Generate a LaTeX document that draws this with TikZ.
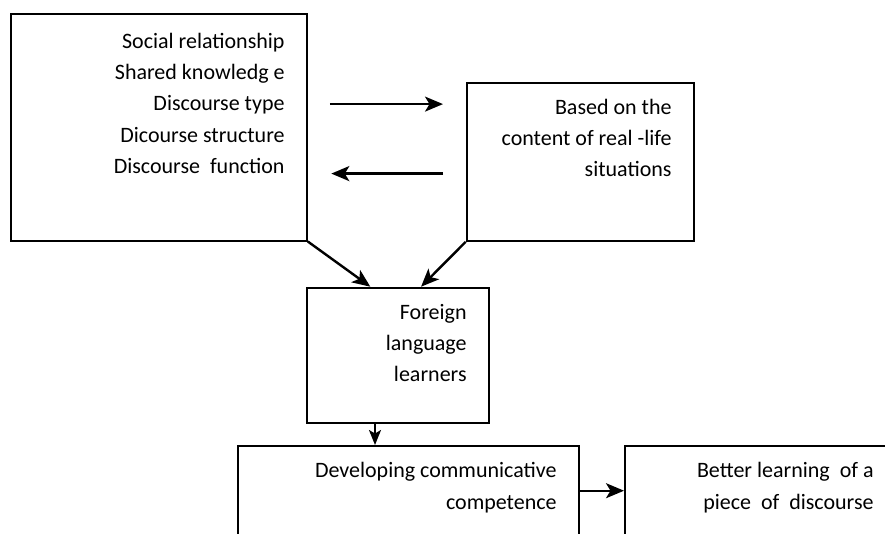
\documentclass[tikz,border=0pt]{standalone}
\usepackage{fontspec}
\setmainfont{Carlito}
\usetikzlibrary{arrows.meta}
\usetikzlibrary{calc}
\usetikzlibrary{positioning}

\begin{document}
\begin{tikzpicture}[x=1pt,y=-1pt,
	box/.style={draw,line width=1.8pt,anchor=north west,inner sep=0pt},
	lines/.style={align=right,inner sep=0pt,font=\fontsize{22}{31.3}\selectfont},
	link/.style={-{Stealth[length=18pt,width=15pt,inset=4.5pt]},line width=2pt}]
	\clip (0,0) rectangle (885,533);
	% boxes
	\node (aspects) [box,minimum width=296pt,minimum height=227pt] at (10,12.7) {};
	\node [lines,below left=20pt and 23pt of aspects.north east] {Social relationship\\Shared knowledg e\\Discourse type\\Dicourse structure\\Discourse\ \ function};
	\node (real) [box,minimum width=227.3pt,minimum height=158.3pt] at (465.7,81.7) {};
	\node [lines,below left=17pt and 23pt of real.north east] {Based on the\\content of real -life\\situations};
	\node (learners) [box,minimum width=182pt,minimum height=135pt] at (306,286.7) {};
	\node [lines,below left=17pt and 23pt of learners.north east] {Foreign\\language\\learners};
	\node (develop) [box,minimum width=340.7pt,minimum height=130pt] at (237.3,445) {};
	\node [lines,below left=17.5pt and 23pt of develop.north east] {Developing communicative\\competence};
	\node (better) [box,minimum width=271pt,minimum height=130pt] at (624,445) {};
	\node [lines,below left=17.5pt and 23pt of better.north east] {Better learning\ \ of a\\piece\ \ of\ \ discourse};
	% arrows
	\draw[link] ($(aspects.east)+(22,-23)$) -- ($(aspects.east -| real.west)+(-22.7,-23)$);
	\draw[link,line width=2.4pt] ($(aspects.east -| real.west)+(-22.7,46.5)$) -- ($(aspects.east)+(23.5,46.5)$);
	\draw[link,line width=2.4pt] (aspects.south east) -- ($(learners.north west)!0.35!(learners.north east)$);
	\draw[link,line width=2.4pt] (real.south west) -- ($(learners.north west)!0.626!(learners.north east)$);
	\draw[link,-{Stealth[length=15pt,width=12pt,inset=3.5pt]}] ([xshift=69pt]learners.south west) -- ([xshift=69pt]learners.south west |- develop.north);
	\draw[link] ([yshift=-45.7pt]develop.north east) -- ([yshift=-45.7pt]better.north west);
\end{tikzpicture}
\end{document}
